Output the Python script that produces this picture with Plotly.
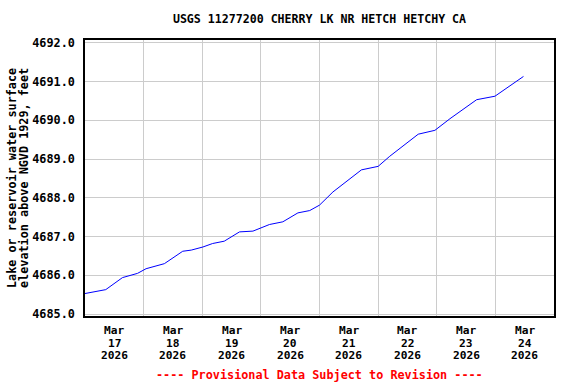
import plotly.graph_objects as go

times = [
    "2026-03-17 00:00", "2026-03-17 08:30", "2026-03-17 15:20", "2026-03-17 21:30",
    "2026-03-18 01:00", "2026-03-18 08:30", "2026-03-18 16:00", "2026-03-18 19:30",
    "2026-03-19 00:15", "2026-03-19 04:15", "2026-03-19 09:00", "2026-03-19 15:15",
    "2026-03-19 20:45", "2026-03-20 03:30", "2026-03-20 09:00", "2026-03-20 15:10",
    "2026-03-20 20:00", "2026-03-21 00:00", "2026-03-21 05:30", "2026-03-21 11:00",
    "2026-03-21 17:10", "2026-03-22 00:00", "2026-03-22 04:45", "2026-03-22 16:25",
    "2026-03-22 23:15", "2026-03-23 05:25", "2026-03-23 16:20", "2026-03-23 23:50",
    "2026-03-24 11:30",
]
elev = [
    4685.53, 4685.63, 4685.94, 4686.05,
    4686.17, 4686.30, 4686.62, 4686.65,
    4686.73, 4686.82, 4686.88, 4687.12,
    4687.14, 4687.31, 4687.38, 4687.61,
    4687.67, 4687.81, 4688.15, 4688.43,
    4688.72, 4688.81, 4689.07, 4689.64,
    4689.74, 4690.04, 4690.53, 4690.62,
    4691.13,
]
tick_vals = ["2026-03-%02d 12:00" % d for d in range(17, 25)]
tick_month = ["Mar"] * 8
tick_day = [str(d) for d in range(17, 25)]
tick_year = ["2026"] * 8
y_ticks = [4685.0, 4686.0, 4687.0, 4688.0, 4689.0, 4690.0, 4691.0, 4692.0]
y_title_lines = ["Lake or reservoir water surface", "elevation above NGVD 1929, feet"]

FONT = "DejaVu Sans Mono"
L, R, T, B = 85, 554, 40, 316
PW, PH = R - L, B - T

def bold(size, color="black"):
    return dict(family=FONT, size=size, color=color, weight="bold")

fig = go.Figure()
fig.add_trace(go.Scatter(x=times, y=elev, mode="lines",
                         line=dict(color="#0000FF", width=1), hoverinfo="skip"))

fig.update_layout(
    width=576, height=384,
    margin=dict(l=L, r=576 - R, t=T, b=384 - B, autoexpand=False),
    paper_bgcolor="white", plot_bgcolor="white",
    showlegend=False,
    font=bold(12),
    title=dict(text="USGS 11277200 CHERRY LK NR HETCH HETCHY CA",
               x=(L + R) / 2 / 576, xanchor="center", y=1 - 19 / 384, yanchor="middle",
               font=bold(11.6), automargin=False),
)
fig.update_xaxes(
    range=["2026-03-17 00:00", "2026-03-25 00:00"],
    tickmode="array", tickvals=tick_vals, showticklabels=False,
    showgrid=False, ticks="", automargin=False,
    minor=dict(tick0="2026-03-17", dtick=86400000, showgrid=True,
               gridcolor="#CCCCCC", gridwidth=1, ticks=""),
    showline=True, linecolor="black", linewidth=1.5, mirror=True, zeroline=False,
)
fig.update_yaxes(
    range=[4684.95, 4692.07], automargin=False,
    tickmode="array", tickvals=y_ticks, ticktext=["%.1f" % v for v in y_ticks],
    showgrid=True, gridcolor="#CCCCCC", gridwidth=1, ticks="",
    ticklabelstandoff=6,
    showline=True, linecolor="black", linewidth=1.5, mirror=True, zeroline=False,
    tickfont=bold(11.8),
)
for tv, m, d, yr in zip(tick_vals, tick_month, tick_day, tick_year):
    for txt, ypx in ((m, 330), (d, 343), (yr, 355)):
        fig.add_annotation(text=txt, x=tv, xref="x", yref="paper",
                           y=-(ypx - B) / PH, xanchor="center", yanchor="middle",
                           showarrow=False, font=bold(11.2))
for txt, xpx in zip(y_title_lines, (12, 24)):
    fig.add_annotation(text=txt, xref="paper", yref="paper",
                       x=(xpx - L) / PW, y=0.5, xanchor="center", yanchor="middle",
                       textangle=-90, showarrow=False, font=bold(11.8))
fig.add_annotation(
    text="---- Provisional Data Subject to Revision ----",
    xref="paper", yref="paper", x=0.5, y=-(375 - B) / PH,
    xanchor="center", yanchor="middle", showarrow=False,
    font=bold(11.8, "#FF0000"),
)
fig.write_html("out.html", config={"displayModeBar": False},
               post_script="document.body.style.margin='0';document.body.style.padding='0';")
